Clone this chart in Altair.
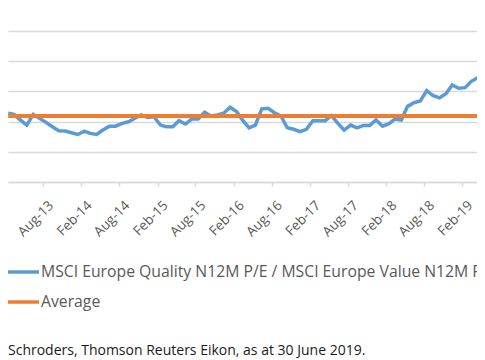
import altair as alt
import pandas as pd

# Monthly observations (mid-month), Feb 2013 .. Jun 2019
months = pd.date_range("2013-02-01", "2019-06-01", freq="MS") + pd.Timedelta(days=14)

ratio = [
    1.455, 1.448, 1.410, 1.377, 1.448,
    1.422, 1.395, 1.366, 1.339, 1.337, 1.326, 1.315, 1.337, 1.322, 1.315, 1.344, 1.370,
    1.370, 1.388, 1.399, 1.422, 1.444, 1.428, 1.432, 1.377, 1.366, 1.366, 1.406, 1.384,
    1.417, 1.417, 1.462, 1.437, 1.444, 1.455, 1.495, 1.466, 1.410, 1.359, 1.377, 1.484,
    1.488, 1.459, 1.437, 1.359, 1.349, 1.333, 1.349, 1.406, 1.406, 1.406, 1.439, 1.388,
    1.344, 1.377, 1.358, 1.375, 1.375, 1.412, 1.370, 1.386, 1.417, 1.410, 1.501, 1.525,
    1.537, 1.605, 1.571, 1.557, 1.585, 1.643, 1.621, 1.625, 1.665, 1.690, 1.700, 1.680,
]
average_value = 1.437

series_names = ["MSCI Europe Quality N12M P/E / MSCI Europe Value N12M P/E", "Average"]
series_colors = ["#5b9bd5", "#ed7d31"]
tick_labels = ["Aug-13", "Feb-14", "Aug-14", "Feb-15", "Aug-15", "Feb-16", "Aug-16",
               "Feb-17", "Aug-17", "Feb-18", "Aug-18", "Feb-19"]
y_grid = [1.0, 1.2, 1.4, 1.6, 1.8, 2.0]
source_text = "Schroders, Thomson Reuters Eikon, as at 30 June 2019."

assert len(ratio) == len(months)

df = pd.DataFrame({
    "date": list(months) * 2,
    "value": ratio + [average_value] * len(months),
    "series": [series_names[0]] * len(months) + [series_names[1]] * len(months),
})

tick_values = [alt.DateTime(year=2000 + int(t[-2:]), month=t[:3], date=1) for t in tick_labels]

FONT = "Open Sans"

x_enc = alt.X(
    "date:T",
    scale=alt.Scale(domain=[alt.DateTime(year=2013, month=2, date=14),
                            alt.DateTime(year=2019, month=4, date=13)]),
    axis=alt.Axis(values=tick_values, format="%b-%y", labelAngle=-45, labelAlign="right",
                  labelBaseline="top", labelOffset=3, labelPadding=12, tickSize=4,
                  tickColor="#d9d9d9", tickWidth=1.5, domainColor="#d9d9d9", domainWidth=1.5,
                  labelColor="#595959", labelFontSize=13.5, labelFont=FONT, grid=False,
                  labelOverlap=False, labelFlush=False, title=None),
)
y_enc = alt.Y(
    "value:Q",
    scale=alt.Scale(domain=[1.0, 2.0], nice=False, zero=False),
    axis=alt.Axis(values=y_grid, labels=False, ticks=False, domain=False, title=None,
                  gridColor="#d9d9d9", gridWidth=1.5),
)
color_enc = alt.Color(
    "series:N",
    scale=alt.Scale(domain=series_names, range=series_colors),
    legend=alt.Legend(orient="none", legendX=-5, legendY=226, title=None,
                      symbolType="stroke", symbolSize=1156, symbolStrokeWidth=3.5,
                      labelFont=FONT, labelFontSize=15.75, labelColor="#595959",
                      labelOffset=0, labelLimit=2000, clipHeight=30, rowPadding=0,
                      padding=0),
)

base = alt.Chart(df)
blue = base.transform_filter(alt.datum.series == series_names[0]).mark_line(
    strokeWidth=3.5, clip=True).encode(x=x_enc, y=y_enc, color=color_enc)
orange = base.transform_filter(alt.datum.series == series_names[1]).mark_line(
    strokeWidth=4, clip=True).encode(x=x_enc, y=y_enc, color=color_enc)

src = alt.Chart(pd.DataFrame({"t": [source_text]})).mark_text(
    align="left", baseline="alphabetic", font=FONT, fontSize=14, color="#1a1a1a"
).encode(text="t:N", x=alt.value(0), y=alt.value(324))

chart = alt.layer(blue, orange, src).properties(
    width=469, height=151,
    autosize=alt.AutoSizeParams(type="none"),
    padding={"left": 0, "top": 23, "right": 0, "bottom": 178},
).configure_view(stroke=None)

chart.save("out.html", embed_options={"renderer": "svg", "actions": False})
